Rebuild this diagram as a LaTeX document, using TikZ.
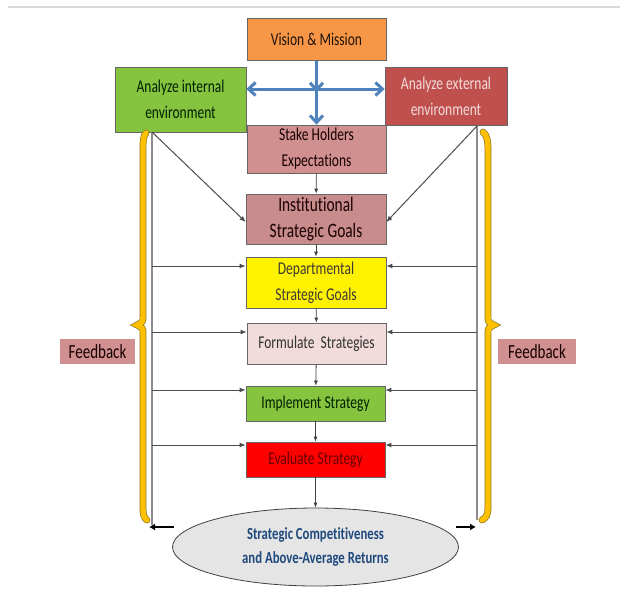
\documentclass[tikz,border=0pt]{standalone}
\usepackage{fontspec}
\usetikzlibrary{arrows.meta,shapes.geometric}
\newfontfamily\calfont[FakeStretch=0.75,Ligatures={NoCommon,NoContextual},RawFeature={-liga;-clig;-dlig}]{Carlito}
\definecolor{cOrange}{HTML}{F79646}
\definecolor{cGreen}{HTML}{86C440}
\definecolor{cRedDark}{HTML}{C0504D}
\definecolor{cRose}{HTML}{D09090}
\definecolor{cRoseB}{HTML}{C98C8C}
\definecolor{cPale}{HTML}{F2DCDB}
\definecolor{cBlue}{HTML}{4F81BD}
\definecolor{cNavy}{HTML}{1F497D}
\definecolor{cGold}{HTML}{FFC000}
\definecolor{cGoldEdge}{HTML}{8A7420}
\tikzset{
  box/.style={draw=black!60, line width=0.7pt, rectangle, inner sep=0pt, align=center,
    font=\calfont\fontsize{18}{26}\selectfont},
  bigbox/.style={box, font=\calfont\fontsize{20.5}{26}\selectfont},
  bluearrow/.style={draw=cBlue, line width=3pt, -{Straight Barb[length=7pt,width=13pt]}},
  bluedouble/.style={draw=cBlue, line width=3pt, {Straight Barb[length=7pt,width=13pt]}-{Straight Barb[length=7pt,width=13pt]}},
  flow/.style={draw=black!75, line width=0.8pt, -{Latex[length=5pt,width=4pt]}},
  fbline/.style={draw=black!45, line width=1.3pt},
  fbarrow/.style={draw=black!70, line width=1pt, -{Latex[length=6pt,width=5pt]}},
  outarrow/.style={draw=black, line width=2pt, -{Latex[length=6pt,width=7pt]}},
  fblabel/.style={fill=cRose, inner sep=0pt, minimum width=75pt, minimum height=25pt,
    font=\calfont\fontsize{20}{24}\selectfont, text=black!90!red},
  braceedge/.style={draw=cGoldEdge, line width=6.8pt, line cap=round},
  bracefill/.style={draw=cGold, line width=5.4pt, line cap=round},
}
\begin{document}
\begin{tikzpicture}[x=1pt,y=-1pt]
\useasboundingbox (0,0) rectangle (620,597);
\fill[white] (0,0) rectangle (620,597);
\draw[black!15, line width=2pt] (8,7) -- (620,7);

% main boxes
\node[box, fill=cOrange, text=black!85!brown, minimum width=139pt, minimum height=42pt] (vision) at (316.5,39.5) {Vision \& Mission};
\node[box, fill=cGreen, text=black!88!green, minimum width=131pt, minimum height=65pt] (internal) at (180.5,99.5) {Analyze internal\\ environment};
\node[box, fill=cRedDark, text=cPale, minimum width=122pt, minimum height=58pt] (external) at (446,96) {Analyze external\\ environment};
\node[box, fill=cRose, text=black!90!red, minimum width=139pt, minimum height=48pt] (stake) at (316.5,149) {Stake Holders\\ Expectations};
\node[bigbox, fill=cRoseB, text=black!90!red, minimum width=140pt, minimum height=50pt] (inst) at (316,219) {Institutional\\ Strategic Goals};
\node[box, fill=yellow, text=black!88!yellow, minimum width=140pt, minimum height=51pt] (dept) at (316,282.5) {Departmental\\ Strategic Goals};
\node[box, fill=cPale, text=black!80, minimum width=139pt, minimum height=41pt] (form) at (316.5,343.5) {Formulate\ \ Strategies};
\node[box, fill=cGreen, text=black!88!green, minimum width=139pt, minimum height=35pt] (impl) at (315.5,403.5) {Implement Strategy};
\node[box, fill=red, text=red!40!black, minimum width=139pt, minimum height=35pt] (eval) at (315.5,459.5) {Evaluate Strategy};
\node[ellipse, draw=black!75, line width=0.8pt, fill=black!10, minimum width=286pt, minimum height=78pt,
  inner sep=0pt, align=center, text=cNavy, font=\calfont\bfseries\fontsize{17}{24}\selectfont] (ell) at (315.5,547) {Strategic Competitiveness\\ and Above-Average Returns};

% blue arrows
\coordinate (hub) at (316.5,89);
\draw[bluearrow] (vision.south) -- ([yshift=-3pt]hub);
\draw[bluearrow] (hub) -- (stake.north);
\draw[bluedouble] (internal.east |- hub) -- (external.west |- hub);

% flow arrows
\draw[flow] (stake) -- (inst);
\draw[flow] (inst) -- (dept);
\draw[flow] (dept) -- (form);
\draw[flow] (form) -- (impl);
\draw[flow] (impl) -- (eval);
\draw[flow] (eval) -- (ell);

% feedback frame
\coordinate (LT) at (152,132);
\coordinate (LB) at (152,525);
\coordinate (RT) at (477,126);
\coordinate (RB) at (477,520);
\draw[fbline] (LT) -- (LB);
\draw[fbline] (RT) -- (RB);
\draw[fbarrow] (LT) -- ([yshift=-3pt]inst.west);
\draw[fbarrow] (RT) -- ([yshift=-3pt]inst.east);
\foreach \n/\yy in {dept/266, form/332, impl/390, eval/445} {
  \coordinate (l\n) at (152,\yy);
  \coordinate (r\n) at (477,\yy);
  \draw[fbarrow] (l\n) -- (l\n -| \n.west);
  \draw[fbarrow] (r\n) -- (r\n -| \n.east);
}
\coordinate (oL1) at (174,527);
\coordinate (oL2) at (149,527);
\coordinate (oR1) at (456,527);
\coordinate (oR2) at (476,527);
\draw[outarrow] (oL1) -- (oL2);
\draw[outarrow] (oR1) -- (oR2);

% braces
\foreach \st in {braceedge, bracefill} {
  \draw[\st] (146,133) .. controls (143,136) and (143,142) .. (143,152) -- (143,316)
    .. controls (143,322) .. (137,325) .. controls (143,328) .. (143,334) -- (143,508)
    .. controls (143,515) and (144,518) .. (147,520);
  \draw[\st] (483,132) .. controls (487,135) and (488,141) .. (488,151) -- (488,316)
    .. controls (488,322) .. (494,325) .. controls (488,328) .. (488,334) -- (488,508)
    .. controls (488,515) and (486,518) .. (482,520);
}

% labels
\node[fblabel] (fbL) at (97.5,351.5) {Feedback};
\node[fblabel, minimum width=78pt] (fbR) at (537,351.5) {Feedback};
\end{tikzpicture}
\end{document}
